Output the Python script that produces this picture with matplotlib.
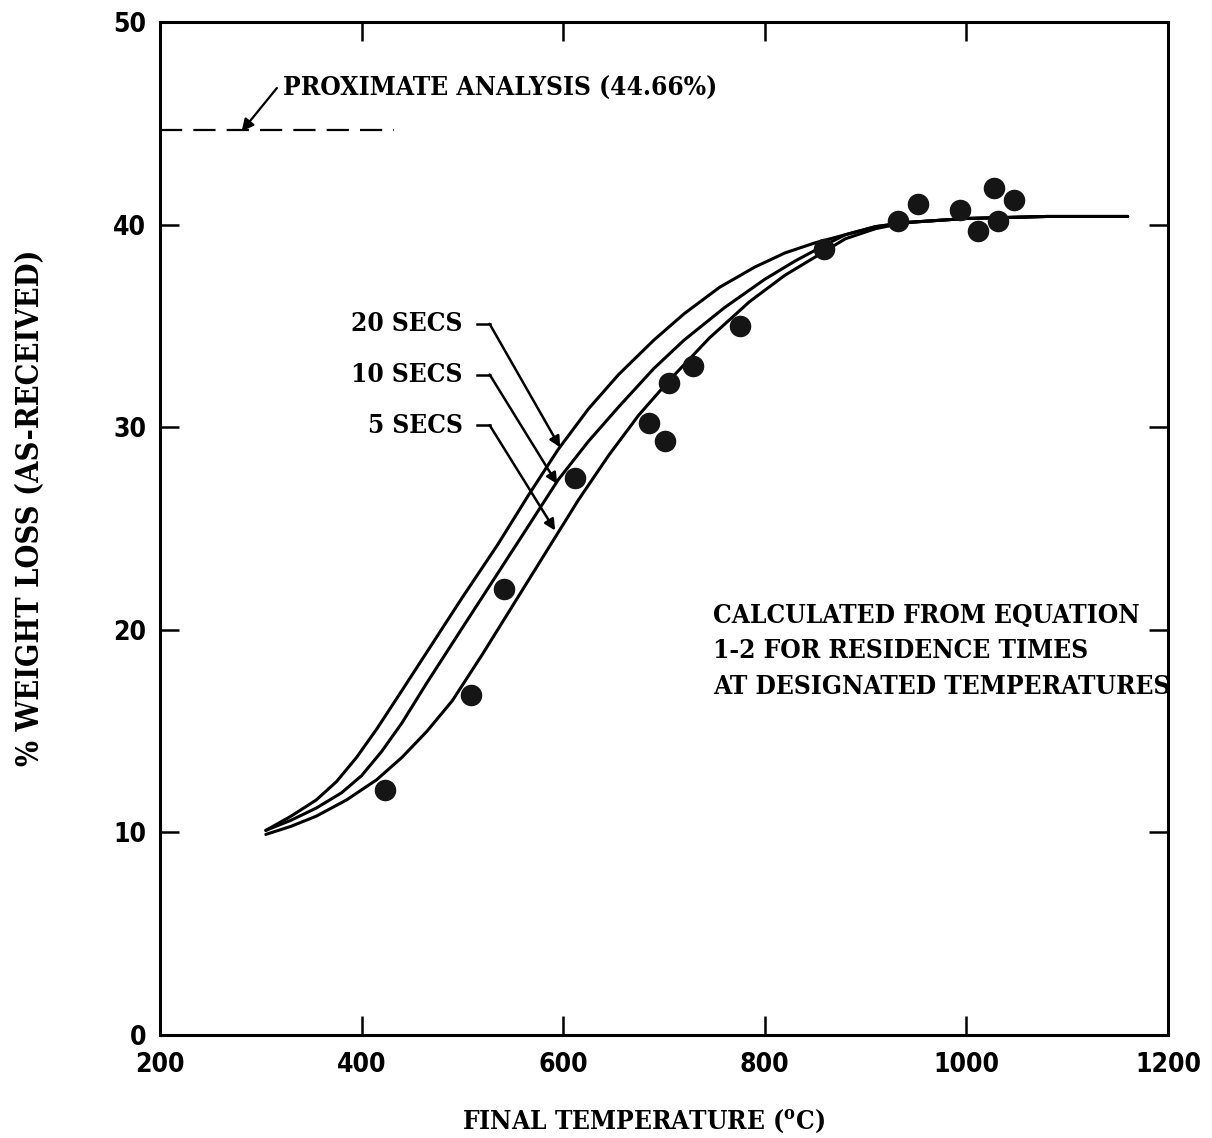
import matplotlib.pyplot as plt
import numpy as np

plt.rcParams['mathtext.default'] = 'regular'

# measured weight loss vs final temperature
temps = [423, 509, 541, 612, 685, 701, 705, 729, 775, 859, 932, 952, 994, 1012, 1027, 1031, 1047]
loss = [12.1, 16.8, 22.0, 27.5, 30.2, 29.3, 32.2, 33.0, 35.0, 38.8, 40.2, 41.0, 40.7, 39.7, 41.8, 40.2, 41.2]

# calculated curves (equation 1-2) for the three residence times
t20 = [305, 330, 355, 375, 395, 415, 440, 470, 500, 535, 565, 595, 625, 655, 690, 720, 755,
       790, 820, 850, 880, 910, 940, 1000, 1080, 1160]
w20 = [10.1, 10.8, 11.6, 12.5, 13.7, 15.1, 17.0, 19.3, 21.6, 24.2, 26.6, 28.9, 30.9, 32.6, 34.3,
       35.6, 36.9, 37.9, 38.6, 39.1, 39.5, 39.9, 40.1, 40.3, 40.4, 40.4]

t10 = [305, 330, 355, 380, 400, 420, 440, 465, 500, 530, 560, 595, 625, 655, 690, 720, 760,
       800, 830, 860, 880, 910, 940, 1000, 1080, 1160]
w10 = [10.1, 10.6, 11.2, 11.95, 12.8, 14.0, 15.4, 17.4, 20.1, 22.4, 24.7, 27.4, 29.3, 31.0, 32.9,
       34.3, 35.9, 37.3, 38.2, 39.0, 39.5, 39.9, 40.1, 40.3, 40.4, 40.4]

t5 = [305, 330, 355, 385, 415, 440, 465, 490, 520, 550, 585, 615, 645, 675, 705, 745, 785,
      820, 850, 880, 910, 940, 1000, 1080, 1160]
w5 = [9.9, 10.3, 10.8, 11.6, 12.6, 13.7, 15.0, 16.5, 18.8, 21.2, 24.0, 26.4, 28.6, 30.6, 32.3,
      34.4, 36.2, 37.5, 38.4, 39.3, 39.8, 40.1, 40.3, 40.4, 40.4]

proximate = 44.66

xticks = [200, 400, 600, 800, 1000, 1200]
yticks = [0, 10, 20, 30, 40, 50]

txt = dict(family='DejaVu Serif', fontstretch='condensed', fontweight='bold', fontsize=18.8)
tickfont = dict(family='DejaVu Sans', fontstretch='condensed', fontweight='bold', fontsize=19)

fig = plt.figure(figsize=(12.12, 11.38), dpi=100)
ax = fig.add_axes([0.132, 0.0905, 0.8317, 0.8902])

for t, w in [(t20, w20), (t10, w10), (t5, w5)]:
    ax.plot(t, w, color='black', lw=2.2, solid_capstyle='round', solid_joinstyle='round',
            zorder=2)

ax.plot(temps, loss, 'o', ms=14.5, color='#151515', zorder=3)

# proximate analysis level
ax.plot([200, 432], [proximate, proximate], color='black', lw=1.6, dashes=(10, 5))
ax.text(322, 46.74, 'PROXIMATE ANALYSIS (44.66%)', va='center', ha='left', **txt)
ax.annotate('', xy=(281, 44.6), xytext=(316, 46.74),
            arrowprops=dict(arrowstyle='-|>', color='black', lw=1.6, mutation_scale=18,
                            shrinkA=0, shrinkB=0))

# residence time labels with leader arrows
labels = ['20 SECS', '10 SECS', '5 SECS']
label_y = [35.1, 32.6, 30.1]
tips = [(597, 29.0), (594, 27.2), (592, 24.9)]
for lab, ly, tip in zip(labels, label_y, tips):
    ax.text(500, ly, lab, ha='right', va='center', **txt)
    ax.plot([514, 527], [ly, ly], color='black', lw=1.8)
    ax.annotate('', xy=tip, xytext=(527, ly),
                arrowprops=dict(arrowstyle='-|>', color='black', lw=1.8, mutation_scale=16,
                                shrinkA=0, shrinkB=0))

ax.text(749, 20.7, 'CALCULATED FROM EQUATION', va='center', **txt)
ax.text(749, 19.0, '1-2 FOR RESIDENCE TIMES', va='center', **txt)
ax.text(749, 17.2, 'AT DESIGNATED TEMPERATURES', va='center', **txt)

ax.set_xlim(200, 1200)
ax.set_ylim(0, 50)
ax.set_xticks(xticks)
ax.set_yticks(yticks)
ax.set_xticklabels([str(v) for v in xticks], **tickfont)
ax.set_yticklabels([str(v) for v in yticks], **tickfont)
ax.tick_params(which='both', direction='in', length=14, width=1.8,
               top=True, right=True)
ax.tick_params(axis='x', pad=12)
ax.tick_params(axis='y', pad=10)
for s in ax.spines.values():
    s.set_linewidth(2.2)

ax.set_xlabel('FINAL TEMPERATURE ($^{o}$C)', **txt)
ax.xaxis.set_label_coords(0.48, -0.072)
ax.set_ylabel('% WEIGHT LOSS (AS-RECEIVED)',
              family='DejaVu Serif', fontstretch='condensed', fontweight='bold', fontsize=22)
ax.yaxis.set_label_coords(-0.113, 0.52)

fig.savefig('out.png', dpi=100)
